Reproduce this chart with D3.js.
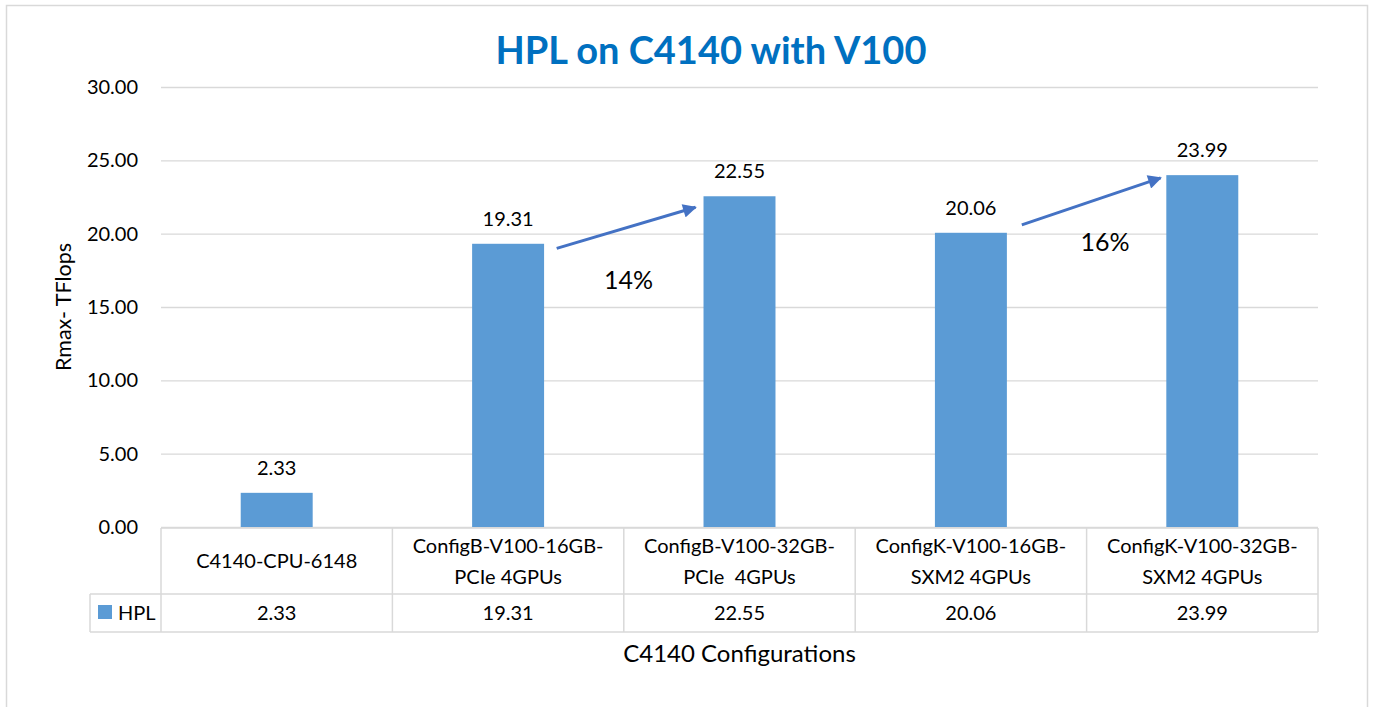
<!DOCTYPE html>
<html lang="en">
<head>
    <meta charset="UTF-8">
    <title>HPL on C4140 with V100</title>
    <script src="https://d3js.org/d3.v7.min.js"></script>
    <style>
        body {
            margin: 0;
            background-color: #ffffff;
        }
        svg text {
            font-family: Lato, "Open Sans", sans-serif;
            fill: #000;
        }
    </style>
</head>
<body>
    <script>
        const width = 1373;
        const height = 707;
        const plotLeft = 161;
        const plotRight = 1318;
        const plotTop = 87;
        const plotBottom = 527;

        // data
        const categories = [
            ["C4140-CPU-6148"],
            ["ConfigB-V100-16GB-", "PCIe 4GPUs"],
            ["ConfigB-V100-32GB-", "PCIe  4GPUs"],
            ["ConfigK-V100-16GB-", "SXM2 4GPUs"],
            ["ConfigK-V100-32GB-", "SXM2 4GPUs"]
        ];
        const seriesName = "HPL";
        const hplValues = [2.33, 19.31, 22.55, 20.06, 23.99];
        const yTicks = [0, 5, 10, 15, 20, 25, 30];

        // arrow annotations, positions in category index / value units
        const arrowFrom = [[1.21, 19.0], [3.22, 20.6]];
        const arrowTo = [[1.81, 21.8], [3.82, 23.8]];
        const gainLabels = ["14%", "16%"];
        const gainLabelPos = [[1.52, 16.2], [3.58, 18.8]];

        const fmt = d3.format(".2f");
        const idx = d3.range(categories.length);

        const svg = d3.select("body").append("svg")
            .attr("width", width)
            .attr("height", height);

        // outer chart border
        svg.append("rect")
            .attr("x", 6.5).attr("y", 5.5)
            .attr("width", 1361).attr("height", 720)
            .attr("fill", "none")
            .attr("stroke", "#d9d9d9")
            .attr("stroke-width", 1.5);

        const y = d3.scaleLinear().domain([0, 30]).range([plotBottom, plotTop]);
        const col = d3.scaleBand().domain(idx).range([plotLeft, plotRight]).padding(0);
        const bar = d3.scaleBand().domain(idx).range([plotLeft, plotRight])
            .paddingInner(0.689).paddingOuter(0.3445);
        const xPos = d3.scaleLinear().domain([-0.5, categories.length - 0.5]).range([plotLeft, plotRight]);

        // gridlines + tick labels
        const yAxis = d3.axisLeft(y)
            .tickValues(yTicks)
            .tickFormat(fmt)
            .tickSize(-(plotRight - plotLeft))
            .tickPadding(23);
        const ga = svg.append("g")
            .attr("transform", `translate(${plotLeft},0)`)
            .call(yAxis);
        ga.select(".domain").remove();
        ga.selectAll(".tick line").attr("stroke", "#d9d9d9").attr("stroke-width", 1.3);
        ga.selectAll(".tick text").style("font-size", "20px").attr("fill", "#000");

        // bars
        svg.append("g").selectAll("rect")
            .data(hplValues)
            .join("rect")
            .attr("x", (d, i) => bar(i))
            .attr("width", bar.bandwidth())
            .attr("y", d => y(d))
            .attr("height", d => y(0) - y(d))
            .attr("fill", "#5b9bd5");

        // value labels
        svg.append("g").selectAll("text")
            .data(hplValues)
            .join("text")
            .attr("x", (d, i) => bar(i) + bar.bandwidth() / 2)
            .attr("y", d => y(d) - 18)
            .attr("text-anchor", "middle")
            .style("font-size", "20px")
            .text(d => fmt(d));

        // data table
        const rowTop = 528, rowMid = 594, rowBottom = 632, legendLeft = 90;
        const grid = svg.append("g")
            .attr("stroke", "#d9d9d9")
            .attr("stroke-width", 1.5)
            .attr("fill", "none");
        grid.append("line").attr("x1", plotLeft).attr("x2", plotRight).attr("y1", rowTop).attr("y2", rowTop);
        grid.append("line").attr("x1", legendLeft).attr("x2", plotRight).attr("y1", rowMid).attr("y2", rowMid);
        grid.append("line").attr("x1", legendLeft).attr("x2", plotRight).attr("y1", rowBottom).attr("y2", rowBottom);
        grid.append("line").attr("x1", legendLeft).attr("x2", legendLeft).attr("y1", rowMid).attr("y2", rowBottom);
        grid.selectAll(".vcol")
            .data(idx.concat([categories.length]))
            .join("line")
            .attr("x1", i => i < categories.length ? col(i) : plotRight)
            .attr("x2", i => i < categories.length ? col(i) : plotRight)
            .attr("y1", rowTop)
            .attr("y2", rowBottom);

        const catLabels = svg.append("g").selectAll("text")
            .data(categories)
            .join("text")
            .attr("text-anchor", "middle")
            .style("font-size", "20px");
        catLabels.selectAll("tspan")
            .data((d, i) => d.map((line, j) => ({line, j, n: d.length, i})))
            .join("tspan")
            .attr("x", d => col(d.i) + col.bandwidth() / 2)
            .attr("y", d => (rowTop + rowMid) / 2 + 7 + (d.j - (d.n - 1) / 2) * 31)
            .style("white-space", "pre")
            .text(d => d.line);

        svg.append("g").selectAll("text")
            .data(hplValues)
            .join("text")
            .attr("x", (d, i) => col(i) + col.bandwidth() / 2)
            .attr("y", (rowMid + rowBottom) / 2 + 7)
            .attr("text-anchor", "middle")
            .style("font-size", "20px")
            .text(d => fmt(d));

        // legend key in table
        svg.append("rect")
            .attr("x", 98).attr("y", 605)
            .attr("width", 14).attr("height", 14)
            .attr("fill", "#5b9bd5");
        svg.append("text")
            .attr("x", 118).attr("y", 620)
            .style("font-size", "20px")
            .text(seriesName);

        // arrows
        const defs = svg.append("defs");
        defs.append("marker")
            .attr("id", "arrowhead")
            .attr("viewBox", "0 0 10 10")
            .attr("refX", 9).attr("refY", 5)
            .attr("markerWidth", 5.2).attr("markerHeight", 4.6)
            .attr("markerUnits", "strokeWidth")
            .attr("orient", "auto")
            .append("path")
            .attr("d", "M0,0L10,5L0,10Z")
            .attr("fill", "#4472c4");

        svg.append("g").selectAll("line")
            .data(arrowFrom)
            .join("line")
            .attr("x1", d => xPos(d[0]))
            .attr("y1", d => y(d[1]))
            .attr("x2", (d, i) => xPos(arrowTo[i][0]))
            .attr("y2", (d, i) => y(arrowTo[i][1]))
            .attr("stroke", "#4472c4")
            .attr("stroke-width", 3)
            .attr("marker-end", "url(#arrowhead)");

        svg.append("g").selectAll("text")
            .data(gainLabels)
            .join("text")
            .attr("x", (d, i) => xPos(gainLabelPos[i][0]))
            .attr("y", (d, i) => y(gainLabelPos[i][1]))
            .attr("text-anchor", "middle")
            .style("font-size", "25px")
            .text(d => d);

        // titles
        svg.append("text")
            .attr("x", 711)
            .attr("y", 64)
            .attr("text-anchor", "middle")
            .style("font-size", "38px")
            .style("font-weight", "bold")
            .style("fill", "#0070c0")
            .text("HPL on C4140 with V100");

        svg.append("text")
            .attr("x", (plotLeft + plotRight) / 2)
            .attr("y", 662)
            .attr("text-anchor", "middle")
            .style("font-size", "24px")
            .text("C4140 Configurations");

        svg.append("text")
            .attr("transform", `translate(71,${(plotTop + plotBottom) / 2}) rotate(-90)`)
            .attr("text-anchor", "middle")
            .style("font-size", "21.5px")
            .text("Rmax- TFlops");
    </script>
</body>
</html>
